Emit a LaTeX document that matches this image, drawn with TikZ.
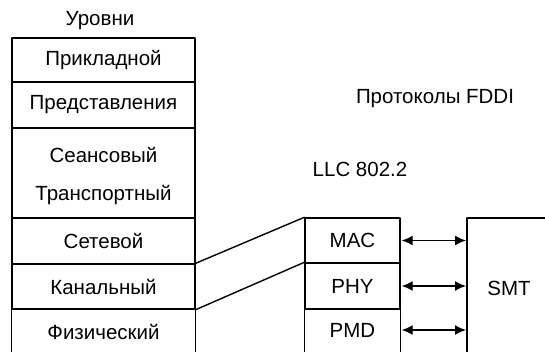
\documentclass[tikz,border=0pt]{standalone}
\usepackage{fontspec}
\setmainfont{Liberation Sans}
\usetikzlibrary{arrows.meta}
\begin{document}
\begin{tikzpicture}[x=1pt, y=-1pt, line width=1.4pt, line cap=round, line join=round,
    font=\fontsize{20.5}{24}\selectfont,
    lvl/.style={draw, minimum width=183pt, inner sep=0pt},
    proto/.style={draw, minimum width=95pt, minimum height=45pt, inner sep=0pt},
    link/.style={{Latex[length=11pt,width=10pt]}-{Latex[length=11pt,width=10pt]}, shorten <=1pt, shorten >=1pt}]
    \useasboundingbox (0,0) rectangle (545,352);
    % OSI levels
    \node (title) at (100,21) {Уровни};
    \node[lvl, minimum height=44pt] (app) at (103.5,60) {Прикладной};
    \node[lvl, minimum height=46pt] (pres) at (103.5,105) {Представления};
    \node[lvl, minimum height=90pt] (sess) at (103.5,173) {};
    \node (sesst) at (103.5,155) {Сеансовый};
    \node (trans) at (103.5,195) {Транспортный};
    \node[lvl, minimum height=46pt] (net) at (103.5,241) {Сетевой};
    \node[lvl, minimum height=45pt] (chan) at (103.5,286.5) {Канальный};
    \draw (chan.south west) -- ++(0,45) (chan.south east) -- ++(0,45);
    \node[minimum width=183pt, inner sep=0pt] (phys) at (103.5,332) {Физический};
    % FDDI
    \node (fddi) at (435,99) {Протоколы FDDI};
    \node (llc) at (360,169) {LLC 802.2};
    \node[proto] (mac) at (352.5,240.5) {MAC};
    \node[proto, minimum height=46pt] (phy) at (352.5,286) {PHY};
    \draw (phy.south west) -- ++(0,45) (phy.south east) -- ++(0,45);
    \node[minimum width=95pt, inner sep=0pt] (pmd) at (352.5,330) {PMD};
    \coordinate (smt) at (467,218);
    \draw (smt) -- ++(0,136) (smt) -- ++(80,0);
    \node (smtt) at (509,288) {SMT};
    \foreach \n in {mac,phy,pmd} \draw[link] (\n.east) -- (\n.east -| smt);
    \draw (chan.north east) -- (mac.north west);
    \draw (chan.south east) -- (phy.north west);
  \end{tikzpicture}
\end{document}
